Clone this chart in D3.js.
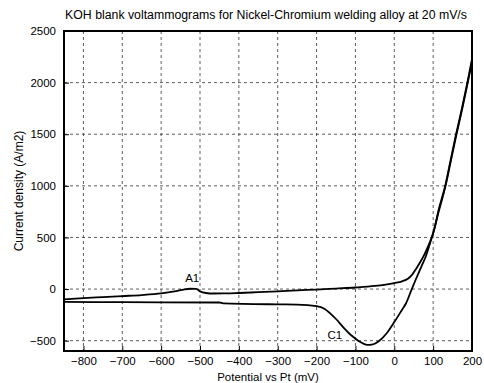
<!DOCTYPE html>
<html>
<head>
<meta charset="utf-8">
<script src="https://cdn.jsdelivr.net/npm/d3@7"></script>
<style>
  body { margin: 0; background: #fff; }
  text { font-family: "Liberation Sans", Arial, sans-serif; }
</style>
</head>
<body>
<svg width="484" height="383"></svg>
<script>
// anodic (forward) sweep, potential in mV, current density in A/m2
var fwdPotential = [-850, -800, -750, -700, -650, -600, -570, -545, -525, -510, -500, -485, -465, -430, -400, -350, -300, -250, -200, -150, -100, -50, 0, 20, 35, 45, 55, 65, 77, 90, 100, 115, 131, 145, 159, 174, 188, 200]
var fwdCurrent   = [-100, -88, -78, -68, -58, -42, -25, -8, 3, 2, -22, -38, -43, -42, -38, -30, -22, -12, -5, 5, 15, 30, 58, 75, 100, 135, 190, 250, 332, 440, 540, 780, 1000, 1250, 1500, 1750, 2000, 2230]

// cathodic (return) sweep
var revPotential = [-850, -700, -600, -450, -440, -300, -250, -200, -180, -165, -150, -130, -110, -90, -70, -55, -40, -20, 0, 20, 30, 45, 55, 70, 81, 95, 100, 115, 131, 145, 159, 174, 188, 200]
var revCurrent   = [-125, -127, -128, -130, -138, -148, -150, -165, -190, -235, -290, -375, -450, -507, -540, -535, -505, -430, -320, -200, -140, 0, 90, 220, 315, 480, 540, 760, 985, 1230, 1480, 1730, 1980, 2200]

var xTicks = [-800, -700, -600, -500, -400, -300, -200, -100, 0, 100, 200]
var yTicks = [-500, 0, 500, 1000, 1500, 2000, 2500]

var peakLabels = [
  {name: "A1", potential: -520, current: 68},
  {name: "C1", potential: -153, current: -484}
]

var svg = d3.select("svg"),
  margin = {top: 31, right: 12, bottom: 32, left: 64},
  width = +svg.attr("width") - margin.left - margin.right,
  height = +svg.attr("height") - margin.top - margin.bottom,
  g = svg.append("g").attr("transform", "translate(" + margin.left + "," + margin.top + ")");

var x = d3.scaleLinear().domain([-850, 200]).range([0, width]);
var y = d3.scaleLinear().domain([-600, 2500]).range([height, 0]);

// grid
g.append("g").selectAll("line").data(xTicks.filter(d => d < 200)).enter().append("line")
  .attr("x1", d => x(d)).attr("x2", d => x(d))
  .attr("y1", 0).attr("y2", height)
  .attr("stroke", "#333").attr("stroke-width", 0.8).attr("stroke-dasharray", "3,3");

g.append("g").selectAll("line").data(yTicks.filter(d => d < 2500)).enter().append("line")
  .attr("y1", d => y(d)).attr("y2", d => y(d))
  .attr("x1", 0).attr("x2", width)
  .attr("stroke", "#333").attr("stroke-width", 0.8).attr("stroke-dasharray", "3,3");

// axes
var xAxis = g.append("g").attr("transform", "translate(0," + height + ")")
  .call(d3.axisBottom(x).tickValues(xTicks).tickFormat(d3.format("d")).tickSizeInner(-5).tickSizeOuter(0).tickPadding(6));
var yAxis = g.append("g")
  .call(d3.axisLeft(y).tickValues(yTicks).tickFormat(d3.format("d")).tickSizeInner(-5).tickSizeOuter(0).tickPadding(8));

[xAxis, yAxis].forEach(a => {
  a.select(".domain").remove();
  a.selectAll(".tick line").attr("stroke", "#000");
  a.selectAll("text").attr("font-size", 11.5).attr("fill", "#000");
});

// frame
g.append("rect").attr("width", width).attr("height", height)
  .attr("fill", "none").attr("stroke", "#000").attr("stroke-width", 2);

var line = d3.line()
  .x(d => x(d[0]))
  .y(d => y(d[1]))
  .curve(d3.curveMonotoneX);

var sweeps = [d3.zip(fwdPotential, fwdCurrent), d3.zip(revPotential, revCurrent)];

g.append("g").selectAll("path").data(sweeps).enter().append("path")
  .attr("fill", "none")
  .attr("stroke", "#000")
  .attr("stroke-width", 1.8)
  .attr("stroke-linejoin", "round")
  .attr("d", line);

g.selectAll(".peak").data(peakLabels).enter().append("text")
  .attr("class", "peak")
  .attr("x", d => x(d.potential))
  .attr("y", d => y(d.current))
  .attr("text-anchor", "middle")
  .attr("font-size", 11.5)
  .text(d => d.name);

// titles
svg.append("text").attr("x", margin.left + width / 2 - 2).attr("y", 19)
  .attr("text-anchor", "middle").attr("font-size", 12.3)
  .text("KOH blank voltammograms for Nickel-Chromium welding alloy at 20 mV/s");

svg.append("text").attr("x", margin.left + width / 2).attr("y", 381)
  .attr("text-anchor", "middle").attr("font-size", 11.5)
  .text("Potential vs Pt (mV)");

svg.append("text")
  .attr("transform", "translate(23," + (margin.top + height / 2) + ") rotate(-90)")
  .attr("text-anchor", "middle").attr("font-size", 12)
  .text("Current density (A/m2)");
</script>
</body>
</html>
